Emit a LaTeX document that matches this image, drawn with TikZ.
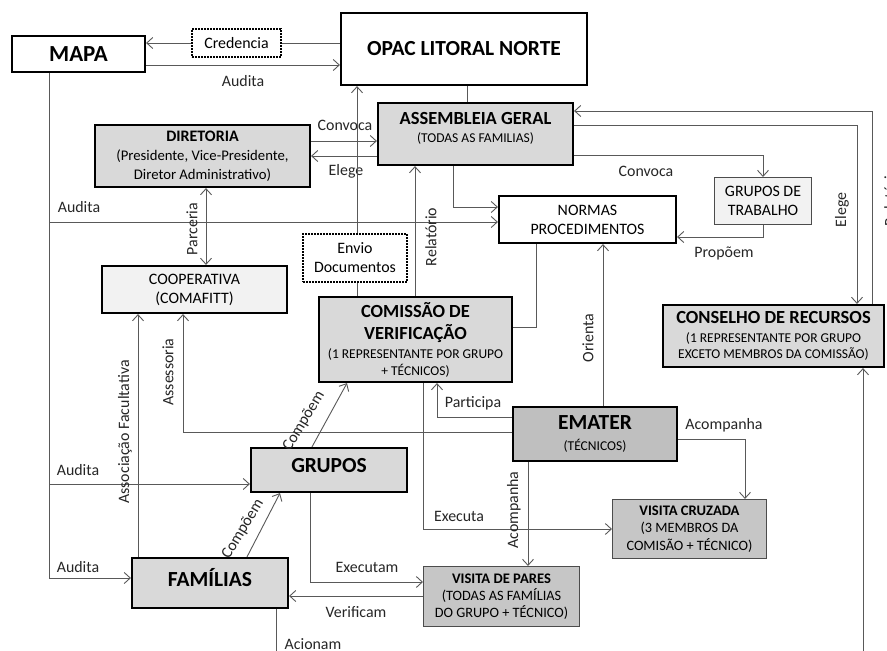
\documentclass[tikz,border=0pt]{standalone}
\usepackage{fontspec}
\setmainfont{Carlito}
\usetikzlibrary{arrows.meta,calc}
\definecolor{fillA}{HTML}{D9D9D9}
\definecolor{fillL}{HTML}{F2F2F2}
\definecolor{fillD}{HTML}{BFBFBF}
\definecolor{fillV}{HTML}{C6C6C6}
\definecolor{linec}{HTML}{595959}
\newcommand{\dgLbl}{\fontsize{15.9}{19}\selectfont}
\newcommand{\dgDirB}{\fontsize{14.7}{19}\selectfont}
\newcommand{\dgBig}{\fontsize{21.5}{24}\selectfont\bfseries}
\newcommand{\dgMid}{\fontsize{18.5}{22}\selectfont\bfseries}
\newcommand{\dgSub}{\fontsize{13.5}{16.5}\selectfont}
\newcommand{\dgDir}{\fontsize{16}{19}\selectfont\bfseries}
\newcommand{\dgVisB}{\fontsize{14.6}{17.5}\selectfont\bfseries}
\newcommand{\dgVis}{\fontsize{14.3}{17.5}\selectfont}
\begin{document}
\begin{tikzpicture}[x=1pt,y=-1pt,
  box/.style={draw=black, line width=2.2pt, align=center, inner sep=0pt},
  thinbox/.style={draw=black!70, line width=1.1pt, align=center, inner sep=0pt},
  dotbox/.style={draw=black, line width=2pt, dash pattern=on 1.6pt off 1.4pt, align=center, inner sep=0pt, fill=white, font=\dgLbl},
  conn/.style={draw=linec, line width=0.9pt},
  arr/.style={conn, -{Straight Barb[length=6pt,width=11pt]}},
  arrb/.style={conn, {Straight Barb[length=6pt,width=11pt]}-{Straight Barb[length=6pt,width=11pt]}},
  lbl/.style={font=\dgLbl, text=black!85, inner sep=0pt},
]
\useasboundingbox (0,0) rectangle (887,651);
\fill[white] (0,0) rectangle (887,651);

% ---------- nodes ----------
\node[box, minimum width=133, minimum height=36, font=\fontsize{23}{26}\selectfont\bfseries] (mapa) at (78.5,54) {MAPA};
\node[dotbox, minimum width=89, minimum height=28] (cred) at (236.5,43) {Credencia};
\node[box, minimum width=246, minimum height=72, font=\dgBig] (opac) at (464,49) {OPAC LITORAL NORTE};
\node[box, fill=fillA, minimum width=195, minimum height=62, text depth=14pt, font=\fontsize{13.5}{18}\selectfont] (assembleia) at (475.5,134)
  {\dgMid ASSEMBLEIA GERAL\\\dgSub (TODAS AS FAMILIAS)};
\node[box, fill=fillA, minimum width=215, minimum height=62, font=\dgDirB] (diretoria) at (202.5,156)
  {\dgDir DIRETORIA\\\dgDirB (Presidente, Vice-Presidente,\\\dgDirB Diretor Administrativo)};
\node[thinbox, fill=fillL, minimum width=97, minimum height=47, font=\dgLbl] (gt) at (763,201)
  {GRUPOS DE\\TRABALHO};
\node[box, minimum width=177, minimum height=47, font=\dgLbl] (normas) at (587.5,219.5)
  {NORMAS\\PROCEDIMENTOS};
\node[dotbox, minimum width=104, minimum height=48] (envio) at (355,258)
  {Envio\\Documentos};
\node[box, fill=fillL, minimum width=185, minimum height=47, font=\dgLbl] (coop) at (194.5,289.5)
  {COOPERATIVA\\(COMAFITT)};
\node[box, fill=fillA, minimum width=193, minimum height=85, font=\fontsize{13.5}{17}\selectfont] (comissao) at (415.5,339.5)
  {\dgMid COMISSÃO DE\\[5pt]\dgMid VERIFICAÇÃO\\[2pt]\dgSub (1 REPRESENTANTE POR GRUPO\\\dgSub + TÉCNICOS)};
\node[box, fill=fillA, minimum width=221, minimum height=62, font=\fontsize{13.5}{16}\selectfont] (conselho) at (773.5,336)
  {\dgMid CONSELHO DE RECURSOS\\[3pt]\dgSub (1 REPRESENTANTE POR GRUPO\\\dgSub EXCETO MEMBROS DA COMISSÃO)};
\node[box, fill=fillD, minimum width=164, minimum height=54, font=\fontsize{13.5}{21}\selectfont] (emater) at (595,434)
  {\dgBig EMATER\\\dgSub (TÉCNICOS)};
\node[box, fill=fillA, minimum width=156, minimum height=44, font=\dgBig, text depth=10pt] (grupos) at (329,470) {GRUPOS};
\node[thinbox, fill=fillV, minimum width=154, minimum height=59, font=\fontsize{14.3}{17.5}\selectfont] (vc) at (689.5,529)
  {\dgVisB VISITA CRUZADA\\\dgVis (3 MEMBROS DA\\\dgVis COMISÃO + TÉCNICO)};
\node[box, fill=fillA, minimum width=156, minimum height=50, font=\dgBig, text depth=12pt] (familias) at (210,583) {FAMÍLIAS};
\node[thinbox, fill=fillV, minimum width=156, minimum height=60, font=\fontsize{14.3}{17}\selectfont] (vp) at (501.5,596.5)
  {\dgVisB VISITA DE PARES\\\dgVis (TODAS AS FAMÍLIAS\\\dgVis DO GRUPO + TÉCNICO)};

% ---------- connectors ----------
\draw[conn] (opac.west |- 0,43) -- (cred.east);
\draw[arr] (cred.west) -- (mapa.east |- 0,43);
\draw[arr] (mapa.east |- 0,65) -- (opac.west |- 0,65);
\node[lbl] (lAud1) at (243,81) {Audita};

\draw[arr] (mapa.south -| 49,0) |- (normas.west |- 0,222);
\draw[arr] (mapa.south -| 49,0) |- (grupos.west |- 0,484);
\draw[arr] (mapa.south -| 49,0) |- (familias.west |- 0,578);
\node[lbl] (lAud2) at (79,207) {Audita};
\node[lbl] (lAud3) at (78,470) {Audita};
\node[lbl] (lAud4) at (78,567) {Audita};

\draw[arrb] (diretoria.south -| 206,0) -- (coop.north -| 206,0);
\node[lbl, rotate=90] (lParc) at (192,229) {Parceria};

\draw[arr] (diretoria.east |- 0,141) -- (assembleia.west |- 0,141);
\node[lbl] (lConv1) at (345,125) {Convoca};
\draw[arr] (assembleia.west |- 0,156) -- (diretoria.east |- 0,156);
\node[lbl] (lEleg1) at (346,171) {Elege};

\draw[conn] (opac.south -| 467,0) -- (assembleia.north -| 467,0);

\draw[conn] (comissao.north -| 357,0) -- (envio.south -| 357,0);
\draw[arr] (envio.north -| 357,0) -- (opac.south -| 357,0);

\draw[arr] (comissao.north -| 415,0) -- (assembleia.south -| 415,0);
\node[lbl, rotate=90] (lRel1) at (431,237) {Relatório};

\draw[arr] (assembleia.south -| 453,0) |- (normas.west |- 0,207);

\draw[arr] (assembleia.east |- 0,155) -| (gt.north);
\node[lbl] (lConv2) at (646,171) {Convoca};
\draw[arr] (gt.south) |- (normas.east |- 0,237);
\node[lbl] (lProp) at (724,253) {Propõem};

\draw[arr] (assembleia.east |- 0,125) -| (conselho.north -| 857,0);
\node[lbl, rotate=90] (lEleg2) at (842,210) {Elege};
\draw[arr] (conselho.north -| 872,0) |- (assembleia.east |- 0,111);
\node[lbl, rotate=90] (lRel2) at (890,197) {Relatório};

\draw[conn] (normas.south -| 536,0) |- (comissao.east |- 0,327);

\draw[arr] (emater.north -| 603,0) -- (normas.south -| 603,0);
\node[lbl, rotate=90] (lOri) at (588,338) {Orienta};

\draw[arr] (emater.west |- 0,417) -| (comissao.south -| 437,0);
\node[lbl] (lPart) at (473,403) {Participa};

\draw[arr] (emater.west |- 0,432) -| (coop.south -| 183,0);
\node[lbl, rotate=90] (lAss) at (168,372) {Assessoria};

\draw[arr] (familias.north -| 138,0) -- (coop.south -| 138,0);
\node[lbl, rotate=90] (lAssoc) at (125,432) {Associação Facultativa};

\draw[arr] (grupos.north -| 312,0) -- (comissao.south -| 347,0);
\node[lbl, rotate=59] (lComp1) at (304,421) {Compõem};
\draw[arr] (familias.north -| 247,0) -- (grupos.south -| 280,0);
\node[lbl, rotate=59] (lComp2) at (243,529) {Compõem};

\draw[arr] (comissao.south -| 423,0) |- (vc.west |- 0,529);
\node[lbl] (lExec) at (459,516) {Executa};

\draw[arr] (emater.east |- 0,439) -| (vc.north -| 745,0);
\node[lbl] (lAcomp1) at (724,425) {Acompanha};

\draw[arr] (emater.south -| 528,0) -- (vp.north -| 528,0);
\node[lbl, rotate=90] (lAcomp2) at (514,510) {Acompanha};

\draw[arr] (grupos.south -| 310,0) |- (vp.west |- 0,582);
\node[lbl] (lExecm) at (367,567) {Executam};

\draw[arr] (vp.west |- 0,596) -- (familias.east |- 0,596);
\node[lbl] (lVer) at (356,612) {Verificam};

\coordinate (acb) at (276,668);
\draw[arr] (familias.south -| 276,0) -- (acb) -| (conselho.south -| 863,0);
\node[lbl] (lAcio) at (313,644) {Acionam};
\end{tikzpicture}
\end{document}
